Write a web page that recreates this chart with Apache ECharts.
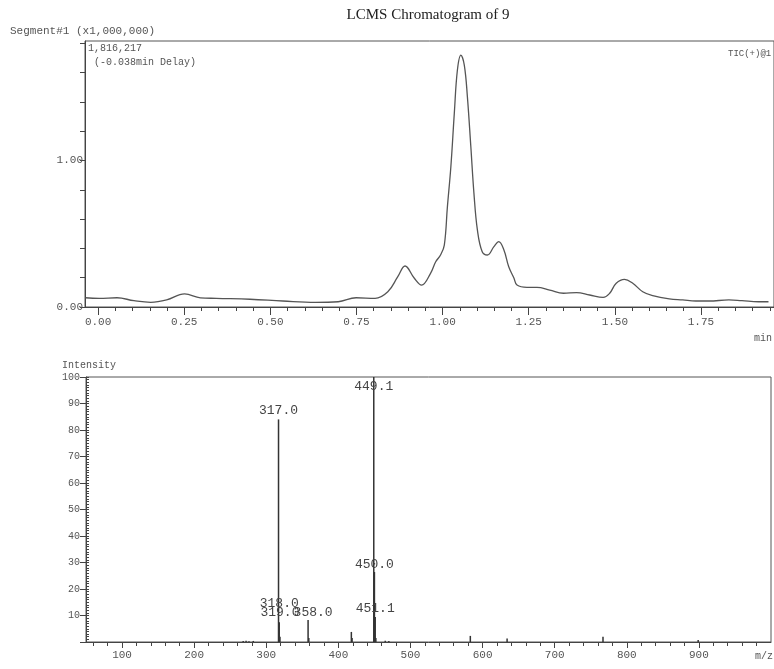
<!DOCTYPE html>
<html>
<head>
<meta charset="utf-8">
<script src="https://cdn.jsdelivr.net/npm/echarts@6/dist/echarts.min.js"></script>
<style>
html, body { margin: 0; padding: 0; background: #fff; }
#main { width: 774px; height: 669px; }
</style>
</head>
<body>
<div id="main"></div>
<script>
// TIC chromatogram: time (min) / intensity (x1,000,000)
var ticTime = [-0.037, 0.003, 0.055, 0.104, 0.153, 0.199, 0.251, 0.297, 0.343, 0.441, 0.536, 0.631, 0.697, 0.749, 0.804, 0.841,
    0.870, 0.891, 0.918, 0.939, 0.965, 0.980, 0.994, 1.005, 1.014, 1.024, 1.034, 1.043, 1.053, 1.063, 1.072, 1.082,
    1.091, 1.101, 1.115, 1.130, 1.149, 1.163, 1.178, 1.192, 1.207, 1.216, 1.245, 1.274, 1.311, 1.351, 1.389, 1.427,
    1.466, 1.485, 1.504, 1.528, 1.552, 1.581, 1.610, 1.658, 1.697, 1.735, 1.773, 1.831, 1.869, 1.917, 1.946];
var ticIntensity = [0.063, 0.059, 0.063, 0.043, 0.032, 0.048, 0.089, 0.063, 0.059, 0.053, 0.041, 0.032, 0.036, 0.063, 0.059, 0.104,
    0.207, 0.280, 0.196, 0.150, 0.230, 0.309, 0.355, 0.423, 0.685, 0.958, 1.322, 1.618, 1.720, 1.652, 1.435, 1.094,
    0.776, 0.526, 0.377, 0.355, 0.412, 0.446, 0.389, 0.275, 0.198, 0.150, 0.134, 0.134, 0.116, 0.094, 0.098, 0.082,
    0.066, 0.094, 0.162, 0.189, 0.162, 0.104, 0.077, 0.055, 0.048, 0.041, 0.041, 0.048, 0.043, 0.036, 0.036];
var timeTicks = [0, 0.25, 0.5, 0.75, 1.0, 1.25, 1.5, 1.75];
var ticMax = 1.816217;

// mass spectrum
var msMz = [268, 272, 276, 282, 317.0, 318.0, 319.0, 358.0, 359, 418, 419, 449.1, 450.0, 451.1, 452, 465, 470, 583, 634, 767, 899];
var msIntensity = [0.4, 0.5, 0.3, 0.4, 84, 7.5, 2, 8.3, 1.5, 3.8, 1.5, 100, 26.4, 9.4, 1.5, 0.5, 0.4, 2.3, 1.3, 2, 0.8];
var msPeakLabels = ['', '', '', '', '317.0', '318.0', '319.0', '358.0', '', '', '', '449.1', '450.0', '451.1', '', '', '', '', '', '', ''];
var mzTicks = [100, 200, 300, 400, 500, 600, 700, 800, 900];

var ticData = ticTime.map(function (t, i) { return [t, ticIntensity[i]]; });

// label placement per peak
var labelStyle = {
    '317.0': { distance: 2 },
    '318.0': { distance: 12 },
    '319.0': { distance: 18 },
    '358.0': { distance: 1, offset: [5, 0] },
    '449.1': { position: 'insideTop', distance: 3 },
    '450.0': { distance: 1 },
    '451.1': { distance: 2 }
};

var msData = msMz.map(function (m, i) {
    var item = { value: [m, msIntensity[i]] };
    var txt = msPeakLabels[i];
    if (txt) {
        var s = labelStyle[txt] || {};
        item.label = {
            show: true,
            position: s.position || 'top',
            distance: s.distance,
            offset: s.offset || [0, 0],
            formatter: txt
        };
    }
    return item;
});

var timeMinor = [];
for (var k = 0; k <= 39; k++) timeMinor.push(+(k * 0.05).toFixed(2));

var mono = 'Liberation Mono';
var axisColor = '#444';
var textColor = '#555';

var option = {
    animation: false,
    backgroundColor: '#fff',
    graphic: [
        { type: 'text', x: 428, y: 15, style: { text: 'LCMS Chromatogram of 9', font: '15px "Liberation Serif"', fill: '#222', textAlign: 'center', textVerticalAlign: 'middle' } },
        { type: 'text', x: 10, y: 31, style: { text: 'Segment#1 (x1,000,000)', font: '11px "Liberation Mono"', fill: textColor, textVerticalAlign: 'middle' } },
        { type: 'text', x: 88, y: 48, style: { text: '1,816,217', font: '10px "Liberation Mono"', fill: textColor, textVerticalAlign: 'middle' } },
        { type: 'text', x: 94, y: 62, style: { text: '(-0.038min Delay)', font: '10px "Liberation Mono"', fill: textColor, textVerticalAlign: 'middle' } },
        { type: 'text', x: 728, y: 54, style: { text: 'TIC(+)@1', font: '9px "Liberation Mono"', fill: textColor, textVerticalAlign: 'middle' } },
        { type: 'text', x: 754, y: 338, style: { text: 'min', font: '10px "Liberation Mono"', fill: textColor, textVerticalAlign: 'middle' } },
        { type: 'text', x: 62, y: 365, style: { text: 'Intensity', font: '10px "Liberation Mono"', fill: textColor, textVerticalAlign: 'middle' } },
        { type: 'text', x: 755, y: 656, style: { text: 'm/z', font: '10px "Liberation Mono"', fill: textColor, textVerticalAlign: 'middle' } }
    ],
    grid: [
        { left: 85, right: -6, top: 41, bottom: 362, show: true, borderColor: '#555', borderWidth: 1 },
        { left: 86, right: 3, top: 377, bottom: 27, show: true, borderColor: '#555', borderWidth: 1 }
    ],
    xAxis: [
        {
            type: 'value', gridIndex: 0, position: 'bottom', min: -0.038, max: 1.962,
            axisLine: { show: true, onZero: false, lineStyle: { color: axisColor } },
            axisTick: { show: true, customValues: timeTicks, length: 8, lineStyle: { color: axisColor } },
            axisLabel: { customValues: timeTicks, formatter: function (v) { return v.toFixed(2); }, color: textColor, fontFamily: mono, fontSize: 11, margin: 10 },
            splitLine: { show: false }
        },
        {
            type: 'value', gridIndex: 0, position: 'bottom', min: -0.038, max: 1.962,
            axisLine: { show: false, onZero: false },
            axisTick: { show: true, customValues: timeMinor, length: 4, lineStyle: { color: axisColor } },
            axisLabel: { show: false },
            splitLine: { show: false }
        },
        {
            type: 'value', gridIndex: 1, position: 'bottom', min: 50, max: 1000,
            axisLine: { show: true, onZero: false, lineStyle: { color: axisColor } },
            axisTick: { show: true, customValues: mzTicks, length: 6, lineStyle: { color: axisColor } },
            axisLabel: { customValues: mzTicks, color: textColor, fontFamily: mono, fontSize: 11, margin: 8 },
            splitLine: { show: false }
        },
        {
            type: 'value', gridIndex: 1, position: 'bottom', min: 50, max: 1000,
            axisLine: { show: false, onZero: false },
            axisTick: { show: true, customValues: [60, 80, 120, 140, 160, 180, 220, 240, 260, 280, 320, 340, 360, 380, 420, 440, 460, 480, 520, 540, 560, 580, 620, 640, 660, 680, 720, 740, 760, 780, 820, 840, 860, 880, 920, 940, 960, 980], length: 4, lineStyle: { color: axisColor } },
            axisLabel: { show: false },
            splitLine: { show: false }
        }
    ],
    yAxis: [
        {
            type: 'value', gridIndex: 0, position: 'left', min: 0, max: ticMax, interval: 0.2,
            axisLine: { show: true, onZero: false, lineStyle: { color: axisColor } },
            axisTick: { show: true, length: 5, lineStyle: { color: axisColor } },
            axisLabel: {
                color: textColor, fontFamily: mono, fontSize: 11, margin: 2,
                showMaxLabel: false,
                formatter: function (v) {
                    if (Math.abs(v) < 1e-6) return '0.00';
                    if (Math.abs(v - 1) < 1e-6) return '1.00';
                    return '';
                }
            },
            splitLine: { show: false }
        },
        {
            type: 'value', gridIndex: 1, position: 'left', min: 0, max: 100, interval: 10,
            axisLine: { show: true, onZero: false, lineStyle: { color: axisColor } },
            axisTick: { show: true, length: 6, lineStyle: { color: axisColor } },
            axisLabel: {
                color: textColor, fontFamily: mono, fontSize: 10, margin: 6,
                formatter: function (v) { return v === 0 ? '' : String(v); }
            },
            splitLine: { show: false }
        },
        {
            type: 'value', gridIndex: 1, position: 'left', min: 0, max: 100, interval: 1,
            axisLine: { show: false, onZero: false },
            axisTick: { show: true, inside: true, length: 3, lineStyle: { color: axisColor } },
            axisLabel: { show: false },
            splitLine: { show: false }
        }
    ],
    series: [
        {
            name: 'TIC',
            type: 'line',
            xAxisIndex: 0,
            yAxisIndex: 0,
            data: ticData,
            smooth: 0.4,
            showSymbol: false,
            lineStyle: { color: '#555', width: 1.3 }
        },
        {
            name: 'MS',
            type: 'bar',
            xAxisIndex: 2,
            yAxisIndex: 1,
            data: msData,
            barWidth: 1.5,
            itemStyle: { color: '#333' },
            label: { show: false, color: '#444', fontFamily: mono, fontSize: 13 }
        }
    ]
};

var chart = echarts.init(document.getElementById('main'));
chart.setOption(option);
</script>
</body>
</html>
